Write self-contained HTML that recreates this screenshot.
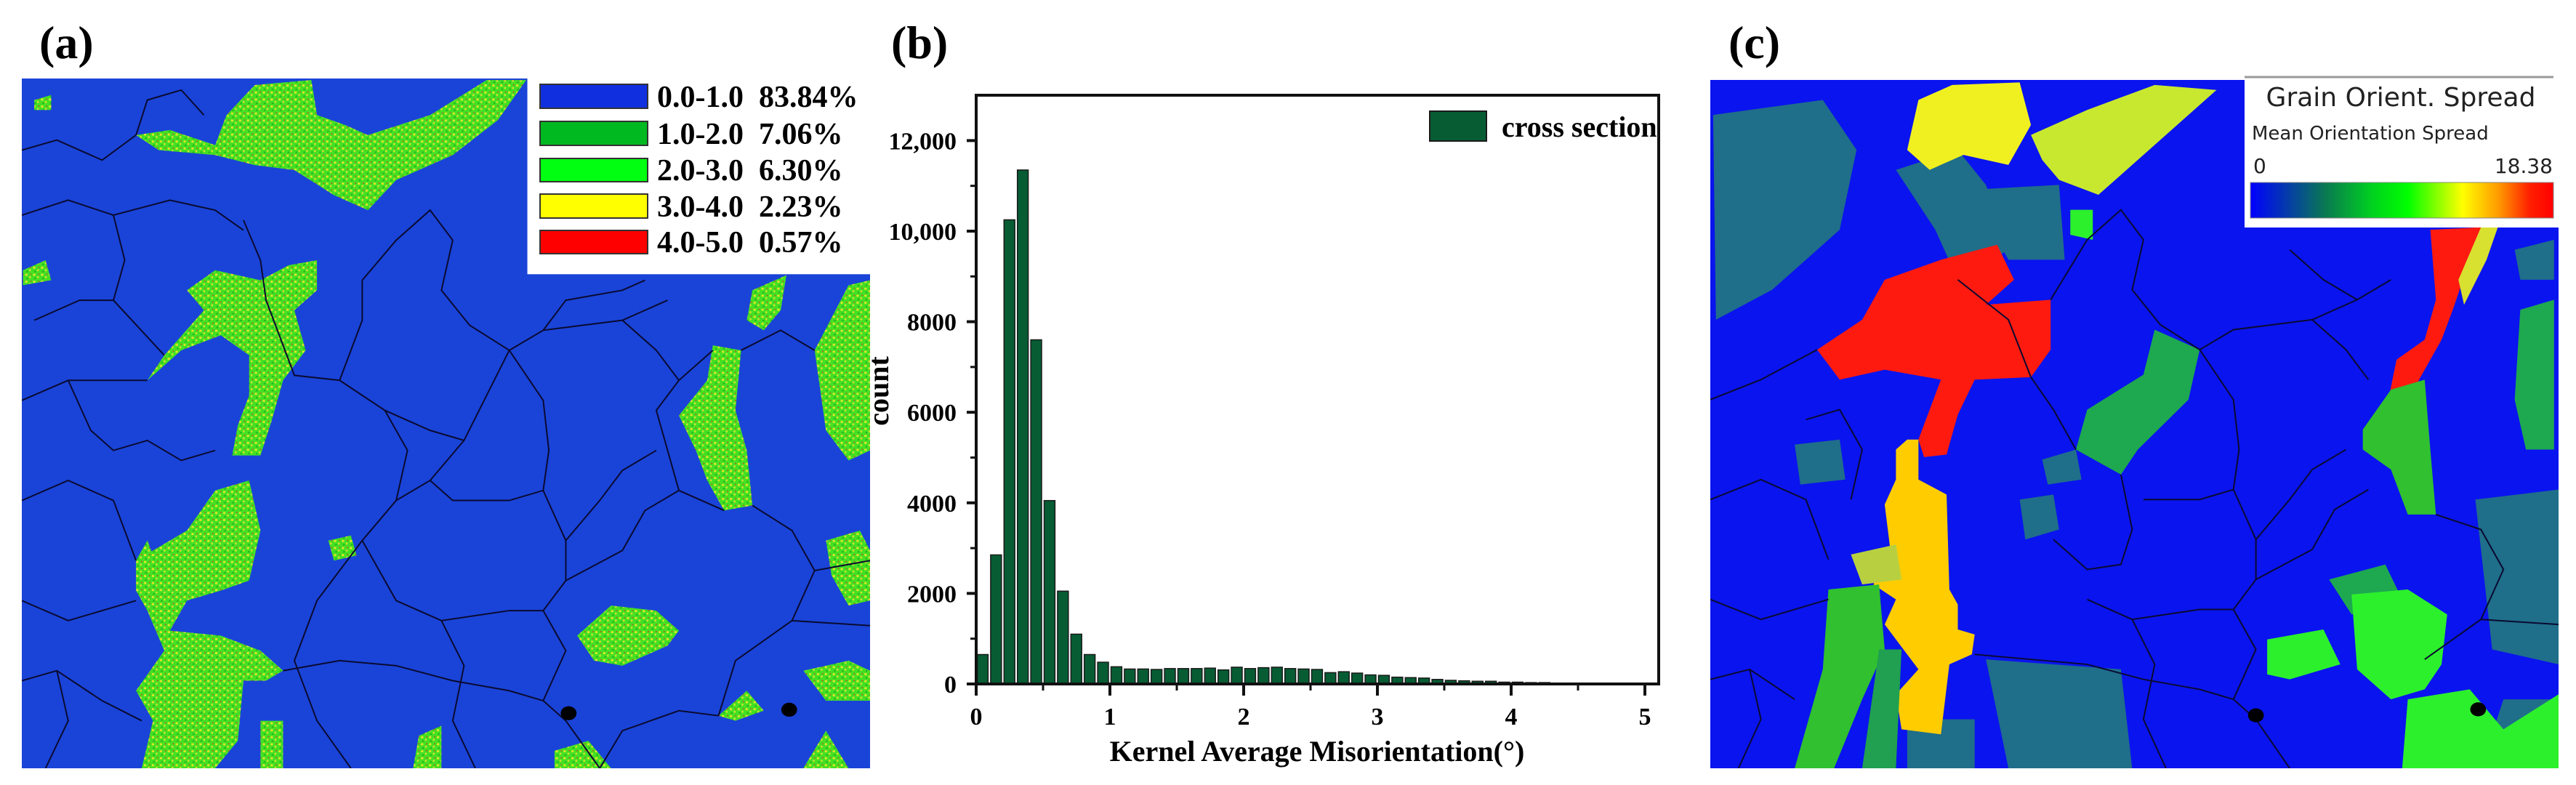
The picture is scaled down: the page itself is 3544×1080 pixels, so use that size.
<!DOCTYPE html>
<html><head><meta charset="utf-8">
<style>
html,body{margin:0;padding:0;background:#fff;}
body{width:3544px;height:1080px;position:relative;overflow:hidden;font-family:"Liberation Serif",serif;}
svg{position:absolute;left:0;top:0;}
</style></head>
<body>
<svg width="3544" height="1080" viewBox="0 0 3544 1080">
<defs>
<pattern id="spk" width="14" height="14" patternUnits="userSpaceOnUse">
<rect width="14" height="14" fill="#44e022"/>
<rect x="2" y="1" width="4" height="4" fill="#e8e62a"/>
<rect x="9" y="6" width="3" height="4" fill="#d8e030"/>
<rect x="4" y="9" width="3" height="3" fill="#22b020"/>
<rect x="11" y="1" width="2" height="2" fill="#e02a1a"/>
</pattern>
<linearGradient id="cbar" x1="0" x2="1" y1="0" y2="0">
<stop offset="0" stop-color="#0000ff"/>
<stop offset="0.25" stop-color="#0a7a50"/>
<stop offset="0.4" stop-color="#00d020"/>
<stop offset="0.52" stop-color="#00ff00"/>
<stop offset="0.7" stop-color="#ffff00"/>
<stop offset="0.82" stop-color="#ff9900"/>
<stop offset="0.92" stop-color="#ff2000"/>
<stop offset="1" stop-color="#ff0000"/>
</linearGradient>
</defs>

<text x="54" y="80" font-size="64" font-weight="bold" font-family="Liberation Serif, serif">(a)</text>
<text x="1226" y="80" font-size="64" font-weight="bold" font-family="Liberation Serif, serif">(b)</text>
<text x="2378" y="80" font-size="64" font-weight="bold" font-family="Liberation Serif, serif">(c)</text>

<!-- Panel (a) KAM map -->
<svg x="30" y="108" width="1167" height="949" viewBox="38 157 1500 1378" preserveAspectRatio="none">
<rect x="38" y="157" width="1500" height="1378" fill="#1a44d8"/>
<g fill="url(#spk)">
<polygon points="400,230 450,170 550,160 560,230 610,250 650,270 760,230 860,160 930,160 880,240 800,310 700,360 650,420 590,390 520,340 450,330 380,310 280,300 240,270 300,260 380,290"/>
<polygon points="290,710 360,620 330,580 380,540 460,560 510,530 560,520 560,580 520,620 540,700 500,760 480,840 460,910 410,910 420,850 440,790 440,710 390,670 320,700 260,760"/>
<polygon points="240,1120 330,1060 380,980 440,960 460,1060 440,1160 390,1180 330,1200 300,1260 390,1270 460,1300 500,1340 470,1360 430,1360 420,1480 380,1535 250,1535 270,1440 240,1380 290,1300 260,1220 240,1180"/>
<polygon points="1200,830 1250,760 1260,690 1310,700 1300,820 1320,900 1330,1010 1280,1020 1250,960 1230,900"/>
<polygon points="1440,700 1500,570 1538,560 1538,900 1500,920 1460,860"/>
<polygon points="1330,580 1390,550 1380,620 1350,660 1320,640"/>
<polygon points="1420,1340 1500,1320 1538,1340 1538,1400 1460,1400"/>
<polygon points="1270,1430 1320,1380 1350,1420 1300,1440"/>
<polygon points="1420,1535 1460,1460 1500,1535"/>
<polygon points="1020,1270 1080,1210 1160,1220 1200,1260 1180,1290 1100,1330 1050,1320"/>
<polygon points="1460,1080 1520,1060 1538,1100 1538,1200 1500,1210 1470,1150"/>
<polygon points="40,540 80,520 90,560 40,570"/>
<polygon points="60,200 90,190 90,220 60,220"/>
<polygon points="460,1440 500,1440 500,1535 460,1535"/>
<polygon points="740,1470 780,1450 780,1535 730,1535"/>
<polygon points="980,1500 1040,1480 1080,1535 980,1535"/>
<polygon points="580,1080 620,1070 630,1110 590,1120"/>
<polygon points="240,1120 260,1080 270,1110"/>
</g>
<g fill="none" stroke="#0a0a30" stroke-width="2">
<polyline vector-effect="non-scaling-stroke" points="38,430 120,400 200,430 300,400 380,420 430,460"/>
<polyline vector-effect="non-scaling-stroke" points="38,800 120,760 260,760"/>
<polyline vector-effect="non-scaling-stroke" points="430,440 460,520 470,600 520,750 600,760 680,820 760,860 820,880 900,700 960,660 1100,640 1180,600"/>
<polyline vector-effect="non-scaling-stroke" points="600,760 640,640 640,560 700,480 760,420 800,480 780,580 830,650 900,700"/>
<polyline vector-effect="non-scaling-stroke" points="820,880 760,960 700,1000 640,1080 600,1140 560,1200 520,1320 560,1440 620,1535"/>
<polyline vector-effect="non-scaling-stroke" points="900,700 960,800 970,900 960,980 900,1000 800,1000 760,960"/>
<polyline vector-effect="non-scaling-stroke" points="960,980 1000,1080 1000,1160 960,1220 900,1220 780,1240 700,1200 640,1080"/>
<polyline vector-effect="non-scaling-stroke" points="1000,1160 1100,1100 1140,1020 1200,980 1280,1020"/>
<polyline vector-effect="non-scaling-stroke" points="960,1220 1000,1300 960,1400 1000,1440 1060,1535"/>
<polyline vector-effect="non-scaling-stroke" points="1200,980 1180,900 1160,820 1200,760 1260,700"/>
<polyline vector-effect="non-scaling-stroke" points="1100,640 1160,700 1200,760"/>
<polyline vector-effect="non-scaling-stroke" points="1330,1010 1400,1060 1440,1140 1400,1240 1300,1320 1270,1430"/>
<polyline vector-effect="non-scaling-stroke" points="1400,1240 1538,1250"/>
<polyline vector-effect="non-scaling-stroke" points="1310,700 1380,660 1440,700"/>
<polyline vector-effect="non-scaling-stroke" points="38,1000 120,960 200,1000 240,1120"/>
<polyline vector-effect="non-scaling-stroke" points="38,1200 120,1240 240,1200"/>
<polyline vector-effect="non-scaling-stroke" points="38,1360 100,1340 180,1400 250,1440"/>
<polyline vector-effect="non-scaling-stroke" points="500,1340 600,1320 700,1330 800,1360 900,1380 960,1400"/>
<polyline vector-effect="non-scaling-stroke" points="200,430 220,520 200,600 290,710"/>
<polyline vector-effect="non-scaling-stroke" points="38,300 100,280 180,320 240,270"/>
<polyline vector-effect="non-scaling-stroke" points="120,760 160,860 200,900 260,880 320,920 380,900"/>
<polyline vector-effect="non-scaling-stroke" points="1060,1535 1100,1460 1200,1420 1270,1430"/>
<polyline vector-effect="non-scaling-stroke" points="240,270 260,200 320,180 360,230"/>
<polyline vector-effect="non-scaling-stroke" points="60,640 140,600 200,600"/>
<polyline vector-effect="non-scaling-stroke" points="680,820 720,900 700,1000"/>
<polyline vector-effect="non-scaling-stroke" points="1000,1080 1060,1000 1100,940 1160,900"/>
<polyline vector-effect="non-scaling-stroke" points="1440,1140 1538,1120"/>
<polyline vector-effect="non-scaling-stroke" points="780,1240 820,1330 800,1440 840,1535"/>
<polyline vector-effect="non-scaling-stroke" points="100,1340 120,1440 80,1535"/>
<polyline vector-effect="non-scaling-stroke" points="960,660 1000,600 1100,580 1140,560"/>
</g>
<circle cx="1005" cy="1425" r="14" fill="#000"/>
<circle cx="1395" cy="1418" r="14" fill="#000"/>
<rect x="932" y="157" width="606" height="391" fill="#fff"/>
</svg>

<g font-family="Liberation Serif, serif" font-weight="bold" font-size="42">
<rect x="743" y="116" width="148" height="33" fill="#1030e0" stroke="#333" stroke-width="2"/>
<rect x="743" y="167" width="148" height="33" fill="#00b820" stroke="#333" stroke-width="2"/>
<rect x="743" y="218" width="148" height="32" fill="#00ff10" stroke="#333" stroke-width="2"/>
<rect x="743" y="267" width="148" height="33" fill="#ffff00" stroke="#333" stroke-width="2"/>
<rect x="743" y="317" width="148" height="32" fill="#ff0000" stroke="#333" stroke-width="2"/>
<text x="904" y="147">0.0-1.0&#160; 83.84%</text>
<text x="904" y="198">1.0-2.0&#160; 7.06%</text>
<text x="904" y="248">2.0-3.0&#160; 6.30%</text>
<text x="904" y="298">3.0-4.0&#160; 2.23%</text>
<text x="904" y="347">4.0-5.0&#160; 0.57%</text>
</g>

<g id="hist"></g>

<!-- Panel (c) GOS map -->
<svg x="2353" y="110" width="1167" height="947" viewBox="30 160 1508 1378" preserveAspectRatio="none">
<rect x="30" y="160" width="1508" height="1378" fill="#0a14ee"/>
<g fill="#1f6e8a">
<polygon points="35,230 230,200 290,300 260,460 140,580 40,640"/>
<polygon points="360,340 470,300 520,370 560,500 470,560 430,460"/>
<polygon points="490,380 650,370 660,520 560,520"/>
<polygon points="520,1320 760,1340 780,1538 560,1538"/>
<polygon points="1390,1000 1538,980 1538,1330 1420,1300"/>
<polygon points="1440,1400 1538,1400 1538,1538 1400,1538"/>
<polygon points="380,1440 500,1440 500,1538 380,1538"/>
<polygon points="180,890 260,880 270,960 190,970"/>
<polygon points="580,1000 640,990 650,1060 590,1080"/>
<polygon points="620,920 680,900 690,960 630,970"/>
<polygon points="1460,500 1530,480 1530,560 1470,560"/>
</g>
<g fill="#1ea850">
<polygon points="820,660 900,700 880,800 790,900 760,950 680,900 700,820 800,750"/>
<polygon points="1130,1160 1230,1130 1260,1200 1170,1230"/>
<polygon points="1470,620 1530,600 1530,900 1480,900 1460,800"/>
</g>
<polygon points="400,200 460,170 580,165 600,250 560,330 480,310 420,340 380,300" fill="#f0f020"/>
<polygon points="600,270 700,220 820,170 930,180 850,260 760,350 720,390 650,360 620,320" fill="#c8e830"/>
<polygon points="220,700 300,640 340,560 440,520 540,490 570,560 520,610 635,600 635,700 600,755 500,760 470,830 450,910 410,915 400,880 440,760 340,740 260,760" fill="#ff1a10"/>
<polygon points="380,880 400,880 400,960 450,990 455,1180 470,1210 470,1260 500,1270 495,1310 455,1330 440,1470 370,1460 360,1390 400,1340 340,1250 360,1200 320,1170 350,1100 340,1010 360,960 360,900" fill="#ffcc00"/>
<polygon points="280,1110 360,1090 370,1160 300,1170" fill="#b8d040"/>
<polygon points="240,1180 330,1170 340,1300 300,1400 250,1538 180,1538 230,1340" fill="#30c030"/>
<polygon points="330,1300 370,1300 360,1538 300,1538" fill="#20a050"/>
<polygon points="1310,460 1400,455 1350,620 1330,680 1290,760 1260,840 1230,830 1250,720 1300,680 1320,600" fill="#ff1a10"/>
<polygon points="1400,455 1430,455 1410,520 1370,610 1360,560" fill="#d8e030"/>
<polygon points="1190,860 1240,780 1300,760 1310,900 1320,1030 1270,1030 1240,940 1190,900" fill="#30c030"/>
<g fill="#2cf02c">
<polygon points="1170,1190 1270,1180 1340,1230 1330,1330 1300,1380 1240,1400 1180,1340"/>
<polygon points="1020,1280 1120,1260 1150,1330 1060,1360 1020,1350"/>
<polygon points="1270,1400 1380,1380 1440,1460 1538,1390 1538,1538 1260,1538"/>
<polygon points="670,420 710,420 710,480 670,470"/>
</g>
<g fill="none" stroke="#0a0a30" stroke-width="2">
<polyline vector-effect="non-scaling-stroke" points="30,800 120,760 220,700"/>
<polyline vector-effect="non-scaling-stroke" points="635,600 700,480 760,420 800,480 780,580 830,650 900,700 960,660 1100,640 1180,600"/>
<polyline vector-effect="non-scaling-stroke" points="600,755 640,820 680,900"/>
<polyline vector-effect="non-scaling-stroke" points="760,950 780,1060 760,1130 700,1140 640,1080"/>
<polyline vector-effect="non-scaling-stroke" points="900,700 960,800 970,900 960,980 900,1000 800,1000"/>
<polyline vector-effect="non-scaling-stroke" points="960,980 1000,1080 1000,1160 960,1220 900,1220 780,1240 700,1200"/>
<polyline vector-effect="non-scaling-stroke" points="1000,1160 1100,1100 1140,1020 1200,980"/>
<polyline vector-effect="non-scaling-stroke" points="960,1220 1000,1300 960,1400 1000,1440 1060,1538"/>
<polyline vector-effect="non-scaling-stroke" points="1100,640 1160,700 1200,760"/>
<polyline vector-effect="non-scaling-stroke" points="30,1000 120,960 200,1000 240,1120"/>
<polyline vector-effect="non-scaling-stroke" points="30,1200 120,1240 240,1200"/>
<polyline vector-effect="non-scaling-stroke" points="30,1360 100,1340 180,1400"/>
<polyline vector-effect="non-scaling-stroke" points="500,1310 600,1320 700,1330 800,1360 900,1380 960,1400"/>
<polyline vector-effect="non-scaling-stroke" points="470,560 560,640 600,755"/>
<polyline vector-effect="non-scaling-stroke" points="1320,1030 1400,1060 1440,1140 1400,1240 1300,1320"/>
<polyline vector-effect="non-scaling-stroke" points="1400,1240 1538,1250"/>
<polyline vector-effect="non-scaling-stroke" points="200,840 260,820 300,900 280,1000"/>
<polyline vector-effect="non-scaling-stroke" points="1060,500 1120,560 1180,600 1240,560"/>
<polyline vector-effect="non-scaling-stroke" points="780,1240 820,1330 800,1440 840,1538"/>
<polyline vector-effect="non-scaling-stroke" points="100,1340 120,1440 80,1538"/>
<polyline vector-effect="non-scaling-stroke" points="1000,1080 1060,1000 1100,940 1160,900"/>
</g>
<circle cx="1000" cy="1432" r="14" fill="#000"/>
<circle cx="1395" cy="1420" r="14" fill="#000"/>
</svg>

<g>
<rect x="3088" y="105" width="432" height="208" fill="#fff"/>
<line x1="3088" y1="106" x2="3513" y2="106" stroke="#999" stroke-width="3"/>
<text x="3303" y="146" text-anchor="middle" font-family="DejaVu Sans, sans-serif" font-size="36" fill="#222">Grain Orient. Spread</text>
<text x="3098" y="192" font-family="DejaVu Sans, sans-serif" font-size="26" fill="#222">Mean Orientation Spread</text>
<text x="3100" y="238" font-family="DejaVu Sans, sans-serif" font-size="28" fill="#222">0</text>
<text x="3512" y="238" text-anchor="end" font-family="DejaVu Sans, sans-serif" font-size="28" fill="#222">18.38</text>
<rect x="3096" y="251" width="417" height="49" fill="url(#cbar)" stroke="#888" stroke-width="1"/>
</g>
</svg>

<script>
const binStarts = [0,0.1,0.2,0.3,0.4,0.5,0.6,0.7,0.8,0.9,1.0,1.1,1.2,1.3,1.4,1.5,1.6,1.7,1.8,1.9,2.0,2.1,2.2,2.3,2.4,2.5,2.6,2.7,2.8,2.9,3.0,3.1,3.2,3.3,3.4,3.5,3.6,3.7,3.8,3.9,4.0,4.1,4.2,4.3,4.4,4.5,4.6,4.7,4.8,4.9];
const counts = [650,2850,10250,11350,7600,4050,2050,1100,650,480,380,330,330,320,340,340,340,350,310,370,340,360,370,340,330,320,250,270,240,200,190,150,140,130,100,80,70,60,60,40,40,30,30,20,20,15,15,10,10,10];
const binWidth = 0.1;
const xTicks = [0,1,2,3,4,5];
const xMinorTicks = [0.5,1.5,2.5,3.5,4.5];
const yTicks = [0,2000,4000,6000,8000,10000,12000];
const yTickLabels = ["0","2000","4000","6000","8000","10,000","12,000"];
const yMinorTicks = [1000,3000,5000,7000,9000,11000];
const seriesName = "cross section";

const NS = "http://www.w3.org/2000/svg";
const X0 = 1343, PXU = 184, Y0 = 941, PXC = 0.0623;
const FR = 2282, FT = 131;
function xs(v){ return X0 + v*PXU; }
function ys(v){ return Y0 - v*PXC; }
function mk(tag, attrs){ const e = document.createElementNS(NS, tag); for (const k in attrs) e.setAttribute(k, attrs[k]); return e; }
const g = document.getElementById('hist');

binStarts.forEach((b,i)=>{
  const x1 = xs(b)+1.5, x2 = xs(b+binWidth)-2;
  const r = mk('rect',{x:x1, y:ys(counts[i]), width:Math.max(1,x2-x1), height:Y0-ys(counts[i]), fill:'#075c34', stroke:'#1a1a1a', 'stroke-width':1.5});
  
  
  g.appendChild(r);
});

const frame = mk('rect',{x:X0, y:FT, width:FR-X0, height:Y0-FT, fill:'none', stroke:'#111', 'stroke-width':4});


g.appendChild(frame);

xTicks.forEach(t=>{
  const l = mk('line',{x1:xs(t), x2:xs(t), y1:Y0, y2:Y0+16, stroke:'#111', 'stroke-width':4});
  
  
  g.appendChild(l);
  const tx = mk('text',{x:xs(t), y:997, 'text-anchor':'middle', 'font-family':'Liberation Serif, serif', 'font-weight':'bold', 'font-size':34});
  tx.textContent = String(t);
  
  
  g.appendChild(tx);
});
xMinorTicks.forEach(t=>{
  const l = mk('line',{x1:xs(t), x2:xs(t), y1:Y0, y2:Y0+9, stroke:'#111', 'stroke-width':3});
  
  
  g.appendChild(l);
});
yTicks.forEach((t,i)=>{
  const l = mk('line',{x1:X0-13, x2:X0, y1:ys(t), y2:ys(t), stroke:'#111', 'stroke-width':4});
  
  
  g.appendChild(l);
  const tx = mk('text',{x:1316, y:ys(t)+12, 'text-anchor':'end', 'font-family':'Liberation Serif, serif', 'font-weight':'bold', 'font-size':34});
  tx.textContent = yTickLabels[i];
  
  
  g.appendChild(tx);
});
yMinorTicks.forEach(t=>{
  const l = mk('line',{x1:X0-8, x2:X0, y1:ys(t), y2:ys(t), stroke:'#111', 'stroke-width':3});
  
  
  g.appendChild(l);
});

const xl = mk('text',{x:1812, y:1047, 'text-anchor':'middle', 'font-family':'Liberation Serif, serif', 'font-weight':'bold', 'font-size':40});
xl.textContent = 'Kernel Average Misorientation(°)';


g.appendChild(xl);

const yl = mk('text',{x:0, y:0, 'text-anchor':'middle', 'font-family':'Liberation Serif, serif', 'font-weight':'bold', 'font-size':40, transform:'translate(1222,538) rotate(-90)'});
yl.textContent = 'count';


g.appendChild(yl);

const lsw = mk('rect',{x:1967, y:153, width:78, height:41, fill:'#075c34', stroke:'#1a1a1a', 'stroke-width':2});


g.appendChild(lsw);
const ltx = mk('text',{x:2066, y:188, 'font-family':'Liberation Serif, serif', 'font-weight':'bold', 'font-size':40});
ltx.textContent = seriesName;


g.appendChild(ltx);
</script>
</body></html>
